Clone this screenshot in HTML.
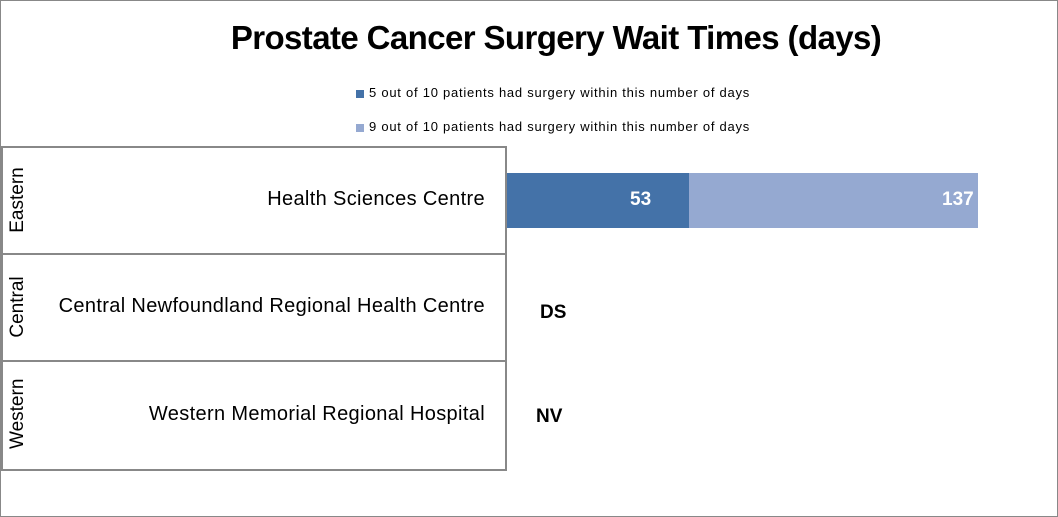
<!DOCTYPE html>
<html><head><style>
body{margin:0;width:1058px;height:517px;background:#fff;font-family:"Liberation Sans",sans-serif;position:relative;overflow:hidden}
.a{position:absolute;white-space:nowrap}
</style></head><body>
<div class="a" style="left:0;top:0;width:1056px;height:515px;border:1px solid #888"></div>
<div class="a" style="left:0;width:1112px;top:19px;text-align:center;font-size:33px;font-weight:bold;color:#000;letter-spacing:-0.6px">Prostate Cancer Surgery Wait Times (days)</div>
<div class="a" style="left:356px;top:90px;width:8px;height:8px;background:#4472a8"></div>
<div class="a" style="left:369px;top:85px;font-size:13px;letter-spacing:0.75px">5 out of 10 patients had surgery within this number of days</div>
<div class="a" style="left:356px;top:124px;width:8px;height:8px;background:#95a9d1"></div>
<div class="a" style="left:369px;top:119px;font-size:13px;letter-spacing:0.75px">9 out of 10 patients had surgery within this number of days</div>
<div class="a" style="left:1px;top:146px;width:504px;height:321px;border:2px solid #888;border-left:none"></div>
<div class="a" style="left:1px;top:253px;width:505px;height:2px;background:#888"></div>
<div class="a" style="left:1px;top:360px;width:505px;height:2px;background:#888"></div>
<div class="a" style="left:1px;top:146px;width:2px;height:323px;background:#888"></div>
<div class="a" style="left:-16px;top:190px;width:68px;height:20px;transform:rotate(-90deg);font-size:19px;text-align:center;line-height:20px">Eastern</div>
<div class="a" style="left:-16px;top:297px;width:68px;height:20px;transform:rotate(-90deg);font-size:19px;text-align:center;line-height:20px">Central</div>
<div class="a" style="left:-16px;top:405px;width:68px;height:20px;transform:rotate(-90deg);font-size:19px;text-align:center;line-height:20px">Western</div>
<div class="a" style="right:573px;top:188px;font-size:20px;letter-spacing:0.35px">Health Sciences Centre</div>
<div class="a" style="right:573px;top:295px;font-size:20px;letter-spacing:0.35px">Central Newfoundland Regional Health Centre</div>
<div class="a" style="right:573px;top:403px;font-size:20px;letter-spacing:0.35px">Western Memorial Regional Hospital</div>
<div class="a" style="left:507px;top:173px;width:182px;height:55px;background:#4472a8"></div>
<div class="a" style="left:689px;top:173px;width:289px;height:55px;background:#95a9d1"></div>
<div class="a" style="left:630px;top:189px;font-size:19px;font-weight:bold;color:#fff">53</div>
<div class="a" style="left:942px;top:189px;font-size:19px;font-weight:bold;color:#fff">137</div>
<div class="a" style="left:540px;top:302px;font-size:19px;font-weight:bold">DS</div>
<div class="a" style="left:536px;top:406px;font-size:19px;font-weight:bold">NV</div>
</body></html>
